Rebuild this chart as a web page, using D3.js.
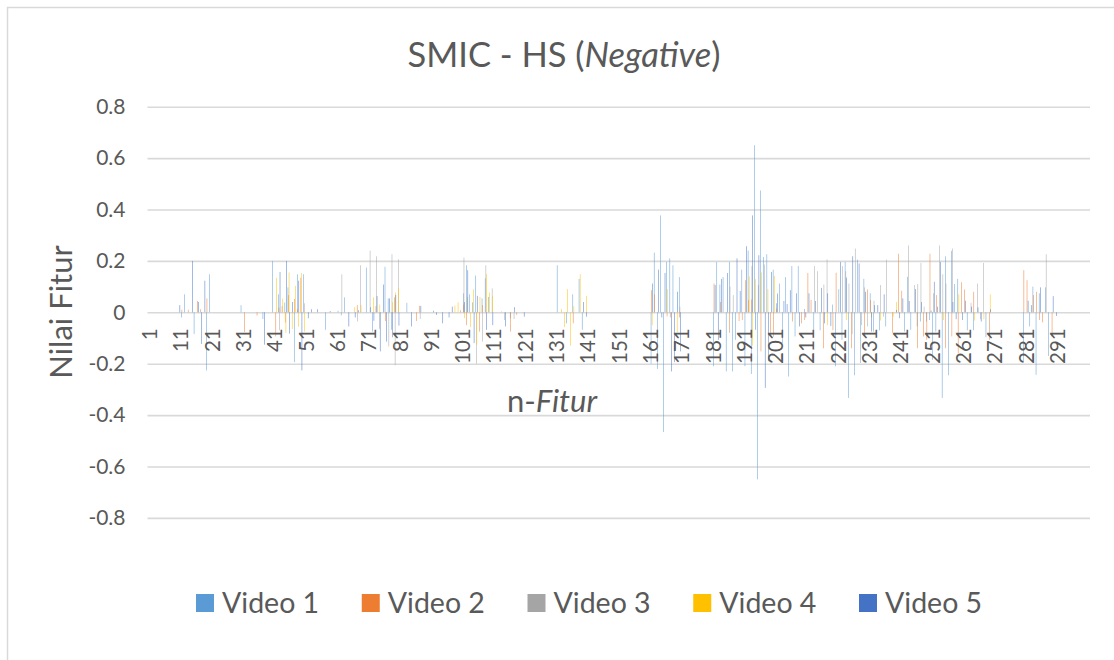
<!DOCTYPE html>
<html>
<head>
<meta charset="utf-8">
<script src="https://cdn.jsdelivr.net/npm/d3@7"></script>
<style>
    html, body { margin: 0; padding: 0; background: #fff; }
    text { font-family: Lato, "Open Sans", sans-serif; fill: #595959; }
</style>
</head>
<body>
<div id="chart"></div>
<script>
// Values, as [n-Fitur, value]
var seriesNames = ["Video 1", "Video 2", "Video 3", "Video 4", "Video 5"];
var seriesColors = ["#5b9bd5", "#ed7d31", "#a5a5a5", "#ffc000", "#4472c4"];
var yTicks = [-0.8, -0.6, -0.4, -0.2, 0, 0.2, 0.4, 0.6, 0.8];

var video1 = [[11,-.02],[12,.07],[15,-.085],[19,-.226],[20,.148],[30,.028],[37,-.026],[40,.2],[42,.07],[44,.038],[45,.097],[47,-.194],[48,.148],[50,.148],[57,-.068],[61,.006],[62,-.012],[63,.058],[70,.174],[72,-.075],
    [76,.177],[77,.054],[78,-.068],[83,.037],[101,.074],[102,.183],[103,.07],[104,.039],[105,.143],[107,.054],[108,.132],[109,.06],[116,-.023],[131,.183],[134,-.043],[136,.07],[138,.13],[139,-.068],
    [161,-.2],[162,.232],[163,-.22],[164,.377],[165,-.466],[166,.196],[167,.21],[168,.183],[170,.137],
    [181,-.21],[182,.196],[183,.108],[184,.137],[185,-.23],[186,.196],[187,-.23],[188,-.107],[190,.166],[191,-.21],[192,.24],[193,-.24],[194,.65],[195,-.65],[196,.474],[197,.215],[198,.226],[200,.166],[201,.035],[202,.112],[203,-.12],[204,.137],[205,-.25],[206,.18],[207,-.094],[208,.18],[210,.013],[213,-.068],[215,-.07],
    [219,.03],[220,-.21],[221,.09],[222,-.107],[223,.196],[224,-.333],[226,-.245],[227,.205],[228,-.197],[229,.13],[231,.074],[232,-.075],[234,-.07],[236,-.055],[242,-.075],[243,.138],[244,-.068],[246,-.055],[247,-.036],[249,-.036],[250,-.03],[251,-.185],[252,-.075],[254,-.333],[255,.218],[256,-.245],[257,.239],[258,.11],[259,.13],[262,-.07],[264,-.07],[268,-.097],
    [280,-.195],[282,-.055],[283,.1],[284,-.243],[285,.074],[287,.097],[288,-.17]];

var video2 = [[11,.01],[13,.01],[16,.044],[17,.012],[19,.054],[31,-.077],[35,-.013],[41,-.094],[42,.018],[43,.024],[44,-.04],[45,.067],[47,.052],[48,.012],[49,.134],[67,.028],[73,.024],
    [76,-.034],[79,.058],[86,-.034],[87,.025],[100,.008],[101,.03],[102,-.05],[106,-.075],[107,.028],[116,-.075],[118,-.01],[136,-.043],[161,.086],[162,.07],[166,-.016],[167,-.02],[170,-.02],
    [181,.112],[183,.04],[186,-.08],[189,-.034],[190,-.03],[191,.125],[192,.048],[193,.05],[196,-.152],[199,-.08],[200,-.095],[201,.015],[206,-.036],[209,-.043],[210,-.03],[211,.153],[212,.048],[216,-.14],
    [219,-.07],[220,.154],[225,-.14],[229,-.08],[230,.089],[231,.048],[238,-.08],[240,.228],[241,.084],[246,-.14],[248,-.094],[249,-.107],[250,.228],[252,.067],[255,-.14],[257,-.094],[259,-.16],[260,.117],[261,.089],[264,.08],[269,-.107],
    [280,.164],[281,.125],[283,.067],[284,.08],[285,-.03],[286,-.039],[289,-.094]];

var video3 = [[42,-.07],[50,.035],[62,.148],[67,-.036],[68,.183],[71,.24],[73,.218],[74,-.064],
    [77,-.133],[78,.226],[79,-.206],[80,.206],[87,-.026],[101,.213],[105,-.2],[107,-.114],[108,.183],[110,.093],[113,.003],[114,-.03],[117,-.026],[170,.022],
    [186,.1],[187,.067],[193,.18],[195,.106],[197,.186],[213,.18],[214,.16],[216,.108],[217,.206],
    [222,.18],[223,.16],[224,.112],[225,-.085],[226,.248],[228,-.05],[229,.097],[230,-.055],[232,.045],[234,.106],[235,-.017],[236,.205],[243,.26],[245,.106],[246,.11],[247,.192],[248,.022],[251,.074],[253,.26],[254,.148],[255,.112],[257,.248],[263,.037],[265,.112],[266,-.027],[267,.192],
    [287,.226]];

var video4 = [[41,.134],[43,.054],[44,-.08],[45,.155],[46,-.065],[47,.103],[48,-.056],[49,.153],[50,-.075],[66,.02],[68,.028],[72,.058],
    [74,.03],[78,.04],[79,.077],[80,.093],[98,.026],[99,.039],[101,-.023],[102,.06],[103,-.058],[104,.089],[105,-.126],[106,.06],[108,.148],[109,.077],[110,.063],
    [132,.013],[133,-.058],[134,.09],[135,-.13],[136,.024],[138,.148],[140,.064],[161,-.05],[166,.09],[169,-.077],
    [192,.14],[193,-.13],[194,.129],[196,.155],[198,.09],[200,.142],[217,-.05],
    [223,-.03],[231,-.02],[234,-.032],[238,-.017],[239,.04],[254,-.03],[259,.07],[264,-.032],[267,-.027],[269,.07]];

var video5 = [[10,.028],[14,.2],[16,.04],[17,-.123],[18,.123],[37,-.126],[42,.157],[44,.2],[45,-.083],[46,.04],[48,.123],[49,-.226],[51,-.023],[52,.012],[54,.012],[58,.005],[64,-.055],[66,-.02],[67,.008],[71,.02],[72,-.033],[73,.063],[74,-.152],
    [75,.108],[76,-.114],[77,.054],[78,-.097],[79,.067],[80,-.052],[84,-.055],[87,.025],[91,.006],[92,-.01],[94,-.043],[96,-.02],[97,.022],[101,.04],[102,.164],[104,-.12],[105,.064],[108,-.068],[110,-.05],[114,-.055],[117,.02],[120,-.017],
    [139,.04],[140,-.017],[161,.112],[163,.166],[164,-.02],[165,.153],[167,-.23],[168,-.194],[169,.08],[170,-.152],
    [181,.106],[182,-.107],[183,.13],[185,.153],[188,.21],[189,.083],[191,.257],[193,.377],[194,-.068],[195,.222],[197,-.294],[198,-.19],[199,.157],[201,.073],[203,.044],[204,.032],[205,.086],[207,.074],[208,-.055],[210,-.02],[211,.074],[213,.044],[215,.095],[216,-.043],[217,.074],
    [218,-.053],[221,.196],[223,.135],[225,.218],[227,.19],[229,.08],[231,-.075],[232,.028],[233,.028],[235,.07],[239,.009],[240,-.023],[241,.054],[243,.044],[245,.09],[247,.04],[250,.007],[251,.119],[252,.022],[253,.196],[257,.04],[258,-.027],[260,-.03],[261,.045],[263,.022],[265,.019],[266,-.036],[269,.012],
    [281,.045],[282,.028],[285,.097],[289,.063],[290,-.014]];

var allSeries = [video1, video2, video3, video4, video5];

var svgWidth = 1114;
var svgHeight = 660;

var svg = d3.select("#chart")
    .append("svg")
    .attr("width", svgWidth)
    .attr("height", svgHeight)
    .style("display", "block");

// chart area outline, only top and left show in the picture
svg.append("path")
    .attr("d", "M7.5,660V7.5H1114")
    .attr("fill", "none")
    .attr("stroke", "#d9d9d9")
    .attr("stroke-width", 1.5);

// scales
var categories = d3.range(1, 301);
var xScale = d3.scaleBand()
    .domain(categories)
    .range([149.4, 149.4 + 3.13 * 300]);
var innerScale = d3.scaleBand()
    .domain(d3.range(5))
    .range([0.6, 2.4]);
var yScale = d3.scaleLinear()
    .domain([-0.8, 0.8])
    .range([517.9, 106.7]);

// y axis with gridlines, plain hyphen in the negative labels
var yAxis = svg.append("g")
    .attr("transform", "translate(147.5,0)")
    .call(d3.axisLeft(yScale)
        .tickValues(yTicks)
        .tickSize(-942.5)
        .tickPadding(22)
        .tickFormat(d => d === 0 ? "0" : d.toFixed(1)));
yAxis.select(".domain").remove();
yAxis.selectAll("line")
    .attr("stroke", "#d9d9d9")
    .attr("stroke-width", 1.6);
yAxis.selectAll("text")
    .style("font-size", "21px");

// bars
svg.selectAll("g.series")
    .data(allSeries)
    .enter()
    .append("g")
    .attr("class", "series")
    .attr("fill", (d, i) => seriesColors[i])
    .each(function(rows, i) {
        d3.select(this).selectAll("rect")
            .data(rows)
            .enter()
            .append("rect")
            .attr("x", d => xScale(d[0]) + innerScale(i))
            .attr("y", d => yScale(Math.max(d[1], 0)))
            .attr("width", 0.5)
            .attr("height", d => Math.abs(yScale(d[1]) - yScale(0)));
    });

// x axis labels sit under the zero line
var xAxis = svg.append("g")
    .attr("transform", `translate(0,${yScale(0)})`)
    .call(d3.axisBottom(xScale)
        .tickValues(categories.filter(d => d % 10 === 1 && d < 300))
        .tickSize(0));
xAxis.select(".domain").remove();
xAxis.selectAll("text")
    .attr("transform", "rotate(-90)")
    .attr("text-anchor", "end")
    .attr("x", -16)
    .attr("y", -1)
    .attr("dy", "0.35em")
    .style("font-size", "20.5px");

// titles
var title = svg.append("text")
    .attr("x", 564)
    .attr("y", 67)
    .attr("text-anchor", "middle")
    .style("font-size", "34.5px");
title.append("tspan").text("SMIC - HS (");
title.append("tspan").style("font-style", "italic").text("Negative");
title.append("tspan").text(")");

svg.append("text")
    .attr("transform", "translate(72,312) rotate(-90)")
    .attr("text-anchor", "middle")
    .style("font-size", "31px")
    .text("Nilai Fitur");

var xTitle = svg.append("text")
    .attr("x", 552)
    .attr("y", 412)
    .attr("text-anchor", "middle")
    .style("font-size", "31px");
xTitle.append("tspan").text("n-");
xTitle.append("tspan").style("font-style", "italic").text("Fitur");

// legend
var legendScale = d3.scalePoint()
    .domain(seriesNames)
    .range([196, 859]);

var legend = svg.selectAll("g.legend")
    .data(seriesNames)
    .enter()
    .append("g")
    .attr("class", "legend")
    .attr("transform", d => `translate(${legendScale(d)},594)`);

legend.append("rect")
    .attr("width", 18)
    .attr("height", 18)
    .attr("fill", (d, i) => seriesColors[i]);

legend.append("text")
    .attr("x", 26)
    .attr("y", 19)
    .style("font-size", "28.5px")
    .text(d => d);
</script>
</body>
</html>
